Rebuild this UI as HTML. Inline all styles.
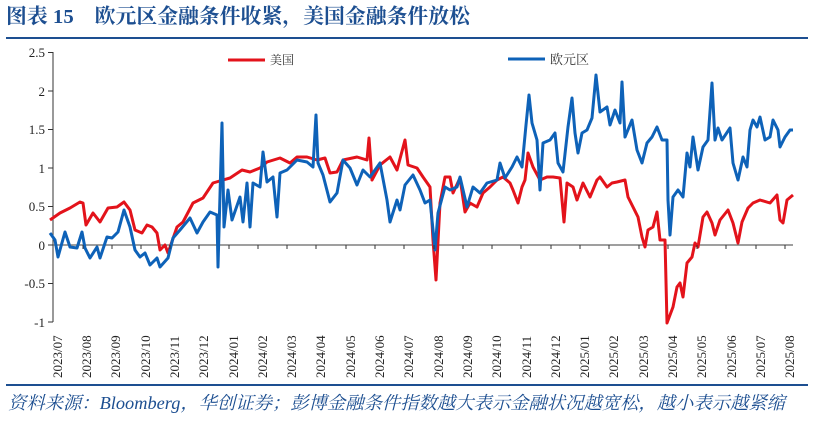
<!DOCTYPE html>
<html><head><meta charset="utf-8"><style>
body{margin:0;background:#fff;width:814px;height:419px;overflow:hidden}
</style></head><body>
<svg width="814" height="419" xmlns="http://www.w3.org/2000/svg" font-family="'Liberation Serif','Noto Serif CJK SC',serif">
<text x="6" y="23" font-size="20.5" font-weight="bold" fill="#1d4f91" textLength="464" lengthAdjust="spacingAndGlyphs">图表 15　欧元区金融条件收紧，美国金融条件放松</text>
<line x1="6" y1="38" x2="808" y2="38" stroke="#1d4f91" stroke-width="2"/>
<line x1="6" y1="385" x2="808" y2="385" stroke="#1d4f91" stroke-width="2"/>
<text x="8" y="409" font-size="18" font-style="italic" fill="#1d4f91" textLength="777" lengthAdjust="spacingAndGlyphs">资料来源：Bloomberg，华创证券；彭博金融条件指数越大表示金融状况越宽松，越小表示越紧缩</text>
<g stroke="#333" stroke-width="1">
<line x1="53" y1="52" x2="53" y2="322"/>
<line x1="53" y1="245" x2="793" y2="245" stroke="#666" stroke-width="1.2"/>
<line x1="48" y1="52.5" x2="53" y2="52.5"/><line x1="48" y1="91" x2="53" y2="91"/><line x1="48" y1="129.5" x2="53" y2="129.5"/><line x1="48" y1="168" x2="53" y2="168"/><line x1="48" y1="206.5" x2="53" y2="206.5"/><line x1="48" y1="245" x2="53" y2="245"/><line x1="48" y1="283.5" x2="53" y2="283.5"/><line x1="48" y1="322" x2="53" y2="322"/>
</g>
<g font-size="13" text-anchor="end" fill="#222">
<text x="45" y="57">2.5</text><text x="45" y="96">2</text><text x="45" y="134">1.5</text><text x="45" y="173">1</text><text x="45" y="211">0.5</text><text x="45" y="250">0</text><text x="45" y="288">-0.5</text><text x="45" y="327">-1</text>
</g>
<polyline fill="none" stroke="#e3131b" stroke-width="3" stroke-linejoin="round" points="50,220 60,213 70,208 80,202 83,203 86,225 93,213 100,222 108,208 117,207 124,202 130,210 135,230 142,233 147,225 152,227 157,233 160,250 165,245 168,253 177,227 183,222 193,203 203,198 213,183 223,180 230,178 242,170 250,172 260,168 267,162 280,158 290,163 297,157 307,157 317,160 325,158 330,173 337,172 343,160 357,157 367,160 369,138 372,180 380,165 390,157 397,170 405,140 408,165 417,168 423,177 430,187 433,240 436,280 440,203 445,177 450,177 453,193 460,178 465,212 470,203 477,207 483,193 490,187 497,180 503,177 510,183 513,190 518,203 522,187 525,180 528,153 533,167 540,180 547,177 553,177 560,178 564,222 567,183 573,187 577,200 583,183 590,197 597,180 600,177 607,187 612,183 617,182 625,180 628,197 633,207 638,217 642,237 645,247 648,230 653,227 657,212 660,240 665,240 667,323 673,307 677,287 680,283 683,297 687,263 692,257 695,243 698,247 703,217 707,212 712,223 715,235 720,220 728,210 733,223 738,243 742,222 748,208 753,203 760,200 770,203 777,195 780,220 783,223 787,200 793,195"/>
<polyline fill="none" stroke="#0e62b8" stroke-width="3" stroke-linejoin="round" points="50,233 55,240 58,257 65,232 70,247 77,248 82,232 85,248 90,258 97,247 100,258 107,237 112,238 118,232 124,210 130,227 135,250 140,257 145,253 150,265 157,258 160,267 168,258 173,238 180,230 190,218 197,233 203,222 210,212 217,215 218,267 222,123 224,227 228,190 232,220 240,197 243,222 247,183 250,227 253,183 260,187 263,152 267,182 273,177 277,217 280,173 287,170 297,160 307,162 313,167 316,115 318,163 323,175 330,202 337,193 343,160 350,168 357,185 363,170 370,177 380,163 387,200 390,222 397,200 400,210 405,185 413,175 420,190 425,203 430,200 435,250 438,213 445,187 450,190 457,187 460,177 467,207 473,187 480,193 487,183 497,180 500,163 505,178 512,167 517,157 522,167 526,125 529,95 532,123 537,140 540,190 543,143 550,140 555,133 558,163 563,172 568,127 572,98 575,133 578,153 582,133 587,130 592,118 596,75 600,112 607,107 610,125 615,110 620,123 622,82 625,137 632,120 637,150 642,163 647,143 652,137 657,127 662,140 667,140 668,200 670,235 673,197 678,190 683,197 687,153 690,167 693,137 698,170 703,147 708,140 712,83 715,140 718,128 722,140 730,128 733,163 738,180 743,157 747,167 750,130 753,120 757,127 760,117 765,140 770,137 773,120 778,130 780,147 785,137 790,130 793,130"/>
<line x1="228" y1="60" x2="265" y2="60" stroke="#e3131b" stroke-width="3"/>
<text x="270" y="64" font-size="12" fill="#333">美国</text>
<line x1="508" y1="59" x2="545" y2="59" stroke="#0e62b8" stroke-width="3"/>
<text x="550" y="64" font-size="13" fill="#333">欧元区</text>
<g font-size="13" fill="#222">
<text transform="translate(62,378) rotate(-90)">2023/07</text>
<text transform="translate(91,378) rotate(-90)">2023/08</text>
<text transform="translate(120,378) rotate(-90)">2023/09</text>
<text transform="translate(150,378) rotate(-90)">2023/10</text>
<text transform="translate(179,378) rotate(-90)">2023/11</text>
<text transform="translate(208,378) rotate(-90)">2023/12</text>
<text transform="translate(238,378) rotate(-90)">2024/01</text>
<text transform="translate(267,378) rotate(-90)">2024/02</text>
<text transform="translate(296,378) rotate(-90)">2024/03</text>
<text transform="translate(325,378) rotate(-90)">2024/04</text>
<text transform="translate(355,378) rotate(-90)">2024/05</text>
<text transform="translate(384,378) rotate(-90)">2024/06</text>
<text transform="translate(413,378) rotate(-90)">2024/07</text>
<text transform="translate(443,378) rotate(-90)">2024/08</text>
<text transform="translate(472,378) rotate(-90)">2024/09</text>
<text transform="translate(501,378) rotate(-90)">2024/10</text>
<text transform="translate(531,378) rotate(-90)">2024/11</text>
<text transform="translate(560,378) rotate(-90)">2024/12</text>
<text transform="translate(589,378) rotate(-90)">2025/01</text>
<text transform="translate(618,378) rotate(-90)">2025/02</text>
<text transform="translate(648,378) rotate(-90)">2025/03</text>
<text transform="translate(677,378) rotate(-90)">2025/04</text>
<text transform="translate(706,378) rotate(-90)">2025/05</text>
<text transform="translate(736,378) rotate(-90)">2025/06</text>
<text transform="translate(765,378) rotate(-90)">2025/07</text>
<text transform="translate(794,378) rotate(-90)">2025/08</text>
</g>
<g stroke="#333" stroke-width="1">
<line x1="83" y1="245" x2="83" y2="249"/><line x1="112" y1="245" x2="112" y2="249"/><line x1="141" y1="245" x2="141" y2="249"/><line x1="170" y1="245" x2="170" y2="249"/><line x1="199" y1="245" x2="199" y2="249"/><line x1="229" y1="245" x2="229" y2="249"/><line x1="258" y1="245" x2="258" y2="249"/><line x1="287" y1="245" x2="287" y2="249"/><line x1="316" y1="245" x2="316" y2="249"/><line x1="346" y1="245" x2="346" y2="249"/><line x1="375" y1="245" x2="375" y2="249"/><line x1="404" y1="245" x2="404" y2="249"/><line x1="434" y1="245" x2="434" y2="249"/><line x1="463" y1="245" x2="463" y2="249"/><line x1="492" y1="245" x2="492" y2="249"/><line x1="521" y1="245" x2="521" y2="249"/><line x1="551" y1="245" x2="551" y2="249"/><line x1="580" y1="245" x2="580" y2="249"/><line x1="609" y1="245" x2="609" y2="249"/><line x1="639" y1="245" x2="639" y2="249"/><line x1="668" y1="245" x2="668" y2="249"/><line x1="697" y1="245" x2="697" y2="249"/><line x1="726" y1="245" x2="726" y2="249"/><line x1="756" y1="245" x2="756" y2="249"/><line x1="785" y1="245" x2="785" y2="249"/>
</g>
</svg>
</body></html>
